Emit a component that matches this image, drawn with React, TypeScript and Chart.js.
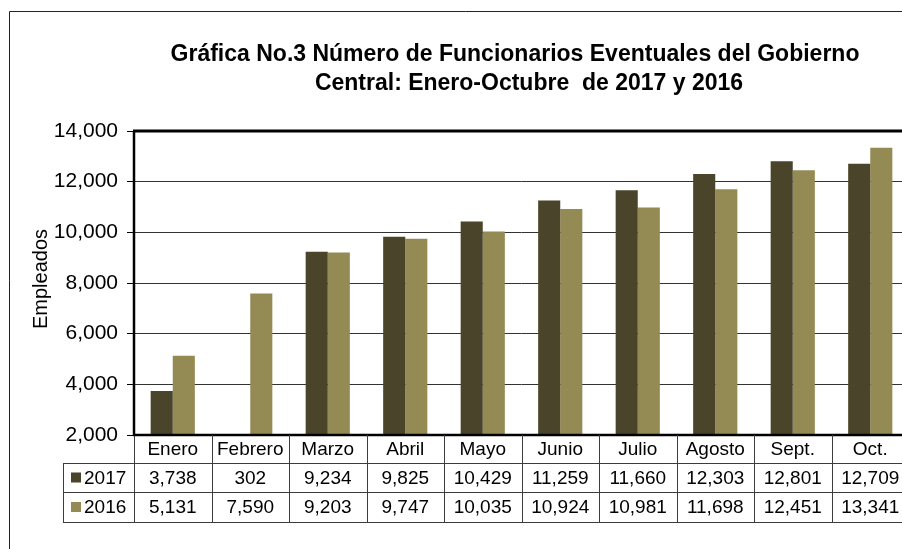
import React, { useEffect, useRef } from "react";
import { Chart, registerables } from "chart.js";

Chart.register(...registerables);

const categories = ["Enero", "Febrero", "Marzo", "Abril", "Mayo", "Junio", "Julio", "Agosto", "Sept.", "Oct."];
const values2017 = [3738, 302, 9234, 9825, 10429, 11259, 11660, 12303, 12801, 12709];
const values2016 = [5131, 7590, 9203, 9747, 10035, 10924, 10981, 11698, 12451, 13341];
const seriesLabels = ["2017", "2016"];
const seriesColors = ["#4A452A", "#948A54"];
const titleLines = [
  "Gráfica No.3 Número de Funcionarios Eventuales del Gobierno",
  "Central: Enero-Octubre  de 2017 y 2016",
];
const yAxisTitle = "Empleados";
const yMin = 2000;
const yMax = 14000;
const yStep = 2000;

const FONT = '"Liberation Sans", Arial, sans-serif';
const fmt = (v: number) => v.toLocaleString("en-US");

const decorPlugin = {
  id: "decor",
  beforeDraw(chart: any) {
    const { ctx, width, height } = chart;
    ctx.save();
    ctx.fillStyle = "#fff";
    ctx.fillRect(0, 0, width, height);
    ctx.restore();
  },
  afterDraw(chart: any) {
    const { ctx, chartArea: a, scales } = chart;
    const x = scales.x;
    ctx.save();

    // outer frame
    ctx.strokeStyle = "#222";
    ctx.lineWidth = 1;
    ctx.beginPath();
    ctx.moveTo(9.5, chart.height + 5);
    ctx.lineTo(9.5, 11.5);
    ctx.lineTo(chart.width + 5, 11.5);
    ctx.stroke();

    // title
    ctx.fillStyle = "#000";
    ctx.textAlign = "center";
    ctx.textBaseline = "middle";
    ctx.font = `bold 23px ${FONT}`;
    ctx.fillText(titleLines[0], 515, 55);
    ctx.fillText(titleLines[1], 529, 84);

    // y axis title
    ctx.save();
    ctx.translate(41, 279);
    ctx.rotate(-Math.PI / 2);
    ctx.font = `20px ${FONT}`;
    ctx.fillText(yAxisTitle, 0, 0);
    ctx.restore();

    // plot border
    ctx.strokeStyle = "#000";
    ctx.lineWidth = 3;
    ctx.beginPath();
    ctx.moveTo(a.left - 1, a.top);
    ctx.lineTo(a.right + 2, a.top);
    ctx.stroke();
    ctx.lineWidth = 2.5;
    ctx.beginPath();
    ctx.moveTo(a.left, a.top);
    ctx.lineTo(a.left, a.bottom);
    ctx.lineTo(a.right + 2, a.bottom);
    ctx.lineTo(a.right, a.top);
    ctx.stroke();

    // data table
    const n = categories.length;
    const cw = (a.right - a.left) / n;
    const bounds: number[] = [];
    for (let i = 0; i < n; i++) bounds.push(x.getPixelForValue(i) - cw / 2);
    bounds.push(x.getPixelForValue(n - 1) + cw / 2);
    const r0 = a.bottom;
    const r1 = a.bottom + 28;
    const r2 = a.bottom + 57;
    const r3 = a.bottom + 87;
    const legL = 63;

    ctx.strokeStyle = "#3c3c3c";
    ctx.lineWidth = 1;
    ctx.beginPath();
    [r1, r2, r3].forEach((yy) => {
      ctx.moveTo(legL, Math.round(yy) + 0.5);
      ctx.lineTo(bounds[n] + 2, Math.round(yy) + 0.5);
    });
    bounds.forEach((bx, i) => {
      const px = Math.round(bx) + 0.5;
      ctx.moveTo(px, i === 0 ? r0 + 1 : r0);
      ctx.lineTo(px, r3 + 0.5);
    });
    ctx.moveTo(legL + 0.5, r1);
    ctx.lineTo(legL + 0.5, r3 + 0.5);
    ctx.stroke();

    ctx.fillStyle = "#000";
    ctx.font = `19px ${FONT}`;
    ctx.textAlign = "center";
    ctx.textBaseline = "middle";
    const rowsData = [values2017, values2016];
    const rowMid = [(r1 + r2) / 2 + 1, (r2 + r3) / 2 + 1];
    categories.forEach((c, i) => {
      const cx = x.getPixelForValue(i);
      ctx.fillText(c, cx, (r0 + r1) / 2 + 1);
      rowsData.forEach((vals, k) => ctx.fillText(fmt(vals[i]), cx, rowMid[k]));
    });
    // legend keys
    seriesLabels.forEach((lab, k) => {
      ctx.fillStyle = seriesColors[k];
      ctx.fillRect(71, rowMid[k] - 6, 10, 10);
      ctx.fillStyle = "#000";
      ctx.textAlign = "left";
      ctx.fillText(lab, 84, rowMid[k]);
    });

    ctx.restore();
  },
};

export default function App() {
  const ref = useRef<HTMLCanvasElement | null>(null);
  useEffect(() => {
    if (!ref.current) return;
    const chart = new Chart(ref.current, {
      type: "bar",
      data: {
        labels: categories,
        datasets: [
          {
            label: seriesLabels[0],
            data: values2017,
            backgroundColor: seriesColors[0],
            borderWidth: 0,
          },
          {
            label: seriesLabels[1],
            data: values2016,
            backgroundColor: seriesColors[1],
            borderWidth: 0,
          },
        ],
      },
      options: {
        responsive: false,
        animation: false,
        devicePixelRatio: 1,
        layout: { padding: { left: 0, right: 11, top: 131, bottom: 114 } },
        datasets: { bar: { categoryPercentage: 0.57, barPercentage: 1 } },
        plugins: {
          legend: { display: false },
          title: { display: false },
          tooltip: { enabled: false },
        },
        scales: {
          x: {
            display: false,
          },
          y: {
            min: yMin,
            max: yMax,
            afterFit: (s: any) => {
              s.width = 134;
            },
            ticks: {
              stepSize: yStep,
              color: "#000",
              padding: 9,
              font: { family: FONT, size: 21 },
              callback: (v: any) => fmt(Number(v)),
            },
            grid: {
              color: "#333",
              lineWidth: 1,
              borderDash: [2, 1],
              tickLength: 7,
              tickColor: "#000",
              tickBorderDash: [],
            } as any,
            border: { display: false },
          },
        },
      } as any,
      plugins: [decorPlugin],
    });
    return () => chart.destroy();
  }, []);

  return (
    <div
      style={{
        position: "fixed",
        left: 0,
        top: 0,
        width: 902,
        height: 549,
        overflow: "hidden",
        background: "#fff",
      }}
    >
      <canvas ref={ref} width={920} height={549} style={{ display: "block" }} />
    </div>
  );
}
